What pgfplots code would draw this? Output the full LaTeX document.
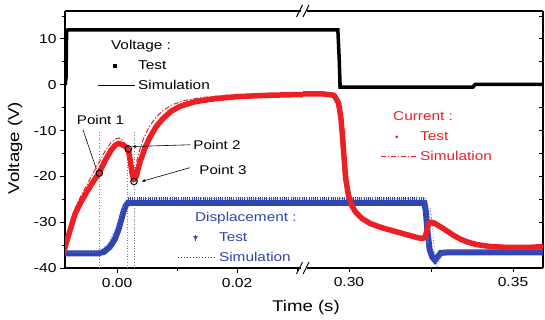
\documentclass[border=0pt]{standalone}
\usepackage{fontspec}
\setmainfont{Liberation Sans}[FakeStretch=1.2]
\usepackage{pgfplots}
\pgfplotsset{compat=1.18}
\usetikzlibrary{arrows.meta}
\definecolor{cred}{RGB}{236,32,36}
\definecolor{cblue}{RGB}{48,68,178}
\begin{document}
\begin{tikzpicture}
\useasboundingbox (0pt,0pt) rectangle (545pt,320pt);
\pgfplotsset{
  common/.style={
    scale only axis, anchor=south west, height=257pt,
    ymin=-40, ymax=16.1,
    scaled x ticks=false, scaled y ticks=false,
    axis line style={line width=1.1pt},
    tick style={black, line width=0.9pt},
    tick label style={font=\fontsize{13}{15}\selectfont},
    ytick={-40,-30,-20,-10,0,10},
    minor ytick={-35,-25,-15,-5,5,15},
    axis x line*=box,
    xtick pos=left,
  },
  legbase/.style={
    legend cell align=left,
    legend style={draw=none, fill=none, inner sep=0pt, row sep=5.5pt, column sep=2pt,
      font=\fontsize{12.8}{14}\selectfont,
      nodes={inner sep=1pt, text height=9.5pt, text depth=3pt, text=#1}},
  },
}
% ---------- left segment ----------
\begin{axis}[common, at={(65pt,52pt)}, width=238pt,
  xmin=-0.00867, xmax=0.031,
  axis y line*=left, ytick pos=left,
  yticklabels={-40,-30,-20,-10,0,10},
  xtick={0,0.02}, xticklabels={0.00,0.02}, minor xtick={0.01,0.03},
  tick align=outside, major tick length=5pt, minor tick length=3pt,
  xticklabel style={yshift=-2pt},
  legbase=black,
  legend style={at={(0.134,0.893)}, anchor=north west},
]
% dotted guide lines
\addplot[gray, dotted, line width=0.7pt, forget plot] coordinates {(-0.00295,-40) (-0.00295,-10.3)};
\addplot[gray, dotted, line width=0.7pt, forget plot] coordinates {(0.00165,-40) (0.00165,-14)};
\addplot[gray, dotted, line width=0.7pt, forget plot] coordinates {(0.00290,-40) (0.00290,-10.3)};
% displacement
\addplot[cblue, line width=6pt, forget plot] coordinates {(-0.0095,-36.8) (-0.0032,-36.8) (-0.0022,-36.5) (-0.0012,-35.4) (-0.0004,-33.8) (0.0002,-31.8) (0.0007,-29.5) (0.0011,-27.6) (0.0015,-26.3) (0.0018,-25.8) (0.0025,-25.8) (0.032,-25.8)};
\addplot[cblue, line width=3pt, dash pattern=on 0.8pt off 1.4pt, yshift=4pt, forget plot] coordinates {(0.0018,-25.8) (0.032,-25.8)};
\addplot[cblue!70!white, line width=0.9pt, dotted, forget plot] coordinates {(-0.0095,-36.6) (-0.0036,-36.6) (-0.0025,-36.0) (-0.0014,-34.6) (-0.0005,-32.2) (0.0003,-29.6) (0.0009,-27.3) (0.0014,-25.6) (0.0018,-24.8) (0.032,-24.8)};
% current
\addplot[cred, line width=5.5pt, line join=round, forget plot] coordinates {(-0.0090,-37.0) (-0.0080,-32.5) (-0.0070,-28.2) (-0.0060,-25.6) (-0.0050,-23.3) (-0.0040,-21.2) (-0.0030,-19.3) (-0.0020,-16.6) (-0.0010,-14.3) (-0.0003,-13.2) (0.0003,-12.8) (0.0009,-13.1) (0.0015,-13.6) (0.0019,-14.2) (0.0022,-16.5) (0.0025,-19.2) (0.0028,-20.8) (0.0032,-20.0) (0.0038,-17.0) (0.0046,-14.0) (0.0055,-11.4) (0.0065,-9.2) (0.0075,-7.6) (0.0090,-5.8) (0.0105,-4.7) (0.0130,-3.7) (0.0160,-3.1) (0.0200,-2.6) (0.0250,-2.3) (0.0320,-2.1)};
\addplot[cred, line width=1pt, dash pattern=on 5pt off 2pt on 1.2pt off 2pt, forget plot] coordinates {(-0.0090,-35.7) (-0.0080,-31.0) (-0.0070,-27.0) (-0.0060,-24.2) (-0.0050,-21.8) (-0.0040,-19.3) (-0.0030,-17.0) (-0.0020,-14.5) (-0.0010,-12.6) (-0.0002,-11.8) (0.0004,-11.6) (0.0010,-12.2) (0.0015,-13.2) (0.0019,-15.5) (0.0023,-18.8) (0.0026,-20.0) (0.0030,-18.5) (0.0036,-15.0) (0.0044,-11.8) (0.0053,-9.3) (0.0063,-7.4) (0.0075,-5.8) (0.0090,-4.5) (0.0110,-3.5) (0.0140,-2.8) (0.0180,-2.3) (0.0240,-2.0) (0.0320,-1.8)};
% voltage
\addplot[black, line width=3.5pt, forget plot] coordinates {(-0.0087,0) (-0.0085,1.5) (-0.0084,11.9) (-0.0080,12.0) (0.032,12.0)};
\addplot[black, line width=0.8pt, forget plot] coordinates {(-0.0087,0) (-0.0084,0) (-0.0083,12.1) (0.032,12.1)};
% marked points
\addplot[only marks, mark=o, mark size=3.3pt, black, line width=1pt, forget plot] coordinates {(-0.00295,-19.3) (0.00189,-14.0) (0.00283,-21.1)};
% annotations
\node[font=\fontsize{12.6}{14}\selectfont] at (axis cs:-0.00275,-7.65) {Point 1};
\node[font=\fontsize{12.6}{14}\selectfont] at (axis cs:0.01667,-13.1) {Point 2};
\node[font=\fontsize{12.6}{14}\selectfont] at (axis cs:0.01767,-18.6) {Point 3};
\draw[line width=0.6pt] (axis cs:-0.00567,-9.84) -- (axis cs:-0.00345,-18.4);
\draw[line width=0.6pt, -{Stealth[length=4pt]}] (axis cs:0.01217,-13.1) -- (axis cs:0.0025,-13.5);
\draw[line width=0.6pt, -{Stealth[length=4pt]}] (axis cs:0.01217,-18.1) -- (axis cs:0.0041,-21.1);
% legend
\addlegendimage{empty legend}\addlegendentry{\hspace*{-27pt}Voltage :}
\addlegendimage{legend image code/.code={\fill[black] (16pt,-1.3pt) rectangle (18.6pt,1.3pt);}}\addlegendentry{Test}
\addlegendimage{legend image code/.code={\draw[black, line width=1pt] (0pt,0pt) -- (37pt,0pt);}}\addlegendentry{Simulation}
\end{axis}
% ---------- right segment ----------
\begin{axis}[common, at={(303pt,52pt)}, width=240pt,
  xmin=0.28598, xmax=0.35915,
  axis y line*=right, ytick pos=right, yticklabels={,,,,,},
  xtick={0.30,0.35}, xticklabels={0.30,0.35}, minor xtick={0.325},
  tick align=inside, major tick length=4pt, minor tick length=4pt,
  xtick style={yshift=-4pt}, xticklabel style={yshift=-6pt},
  legbase=cred,
  legend style={at={(0.321,0.617)}, anchor=north west},
]
% displacement
\addplot[cblue, line width=6pt, forget plot] coordinates {(0.2850,-25.8) (0.3230,-25.8) (0.3234,-27.5) (0.3240,-32.5) (0.3246,-36.0) (0.3254,-37.6) (0.3262,-38.3) (0.3270,-37.6) (0.3280,-36.7) (0.3300,-36.6) (0.3600,-36.6)};
\addplot[cblue, line width=3pt, dash pattern=on 0.8pt off 1.4pt, yshift=4pt, forget plot] coordinates {(0.2850,-25.8) (0.3230,-25.8)};
\addplot[cblue!70!white, line width=0.9pt, dotted, forget plot] coordinates {(0.2850,-24.8) (0.3232,-24.8) (0.3236,-29) (0.3240,-35) (0.3244,-31) (0.3248,-27) (0.3253,-30) (0.3260,-36) (0.3268,-39.7) (0.3275,-38.5) (0.3283,-36.6) (0.3295,-36.3) (0.3600,-36.3)};
% current
\addplot[cred, line width=5.5pt, line join=round, forget plot] coordinates {(0.2850,-2.0) (0.2920,-2.0) (0.2955,-2.3) (0.2968,-4.0) (0.2975,-7.0) (0.2980,-11.0) (0.2985,-16.0) (0.2990,-20.5) (0.2998,-24.0) (0.3008,-26.3) (0.3020,-27.8) (0.3040,-29.2) (0.3065,-30.3) (0.3100,-31.2) (0.3140,-32.0) (0.3180,-32.8) (0.3210,-33.4) (0.3225,-33.6) (0.3233,-33.0) (0.3242,-30.5) (0.3250,-30.0) (0.3265,-30.4) (0.3290,-31.5) (0.3317,-32.8) (0.3340,-33.7) (0.3360,-34.3) (0.3390,-34.9) (0.3430,-35.3) (0.3480,-35.5) (0.3550,-35.5) (0.3600,-35.3)};
\addplot[cred, line width=1pt, dash pattern=on 5pt off 2pt on 1.2pt off 2pt, forget plot] coordinates {(0.2850,-1.8) (0.2950,-1.9) (0.2962,-2.6) (0.2970,-5.5) (0.2977,-10.0) (0.2983,-15.5) (0.2989,-20.5) (0.2996,-24.0) (0.3006,-26.5) (0.3020,-28.2) (0.3040,-29.5) (0.3070,-30.6) (0.3110,-31.5) (0.3150,-32.3) (0.3190,-33.0) (0.3225,-33.5) (0.3235,-32.0) (0.3242,-29.5) (0.3252,-29.3) (0.3268,-30.0) (0.3290,-31.3) (0.3320,-32.8) (0.3350,-34.0) (0.3385,-34.9) (0.3430,-35.3) (0.3500,-35.5) (0.3600,-35.4)};
% voltage
\addplot[black, line width=3.5pt, forget plot] coordinates {(0.2850,12.0) (0.2966,12.0) (0.2970,6.0) (0.2973,-0.5) (0.3378,-0.5) (0.3385,0.1) (0.3600,0.1)};
\addplot[black, line width=0.8pt, forget plot] coordinates {(0.2850,12.1) (0.2968,12.1) (0.2969,-0.4) (0.3380,-0.4) (0.3381,0.1) (0.3600,0.1)};
% legend
\addlegendimage{empty legend}\addlegendentry{\hspace*{-27pt}Current :}
\addlegendimage{legend image code/.code={\fill[cred] (16pt,0pt) circle (1.3pt);}}\addlegendentry{Test}
\addlegendimage{legend image code/.code={\draw[cred, line width=1pt, dash pattern=on 5pt off 2pt on 1.2pt off 2pt] (0pt,0pt) -- (36pt,0pt);}}\addlegendentry{Simulation}
\end{axis}
% ---------- displacement legend ----------
\begin{axis}[at={(65pt,52pt)}, anchor=south west, scale only axis, width=238pt, height=257pt,
  xmin=0, xmax=1, ymin=0, ymax=1, hide axis,
  scaled x ticks=false, scaled y ticks=false,
  legbase=cblue,
  legend style={at={(0.47,0.224)}, anchor=north west},
]
\addlegendimage{empty legend}\addlegendentry{\hspace*{-24pt}Displacement :}
\addlegendimage{legend image code/.code={\fill[cblue] (16pt,1.6pt) -- (20pt,1.6pt) -- (18pt,-1.6pt) -- cycle; \draw[cblue, line width=0.6pt] (18pt,-3pt) -- (18pt,2.5pt);}}\addlegendentry{Test}
\addlegendimage{legend image code/.code={\draw[cblue, line width=1pt, dotted] (0pt,0pt) -- (38pt,0pt);}}\addlegendentry{Simulation}
\end{axis}
% axis breaks
\fill[white] (300.5pt,303pt) rectangle (306.5pt,316pt);
\draw[line width=0.9pt] (296.5pt,303pt) -- (302.5pt,315pt);
\draw[line width=0.9pt] (303pt,303pt) -- (309pt,315pt);
\fill[white] (300.5pt,46pt) rectangle (306.5pt,58pt);
\draw[line width=0.9pt] (296.5pt,46pt) -- (302.5pt,58pt);
\draw[line width=0.9pt] (303pt,46pt) -- (309pt,58pt);
% axis labels
\node[font=\fontsize{15.5}{18}\selectfont, rotate=90] at (15pt,172pt) {Voltage (V)};
\node[font=\fontsize{15.5}{18}\selectfont] at (306pt,13pt) {Time (s)};
\end{tikzpicture}
\end{document}
